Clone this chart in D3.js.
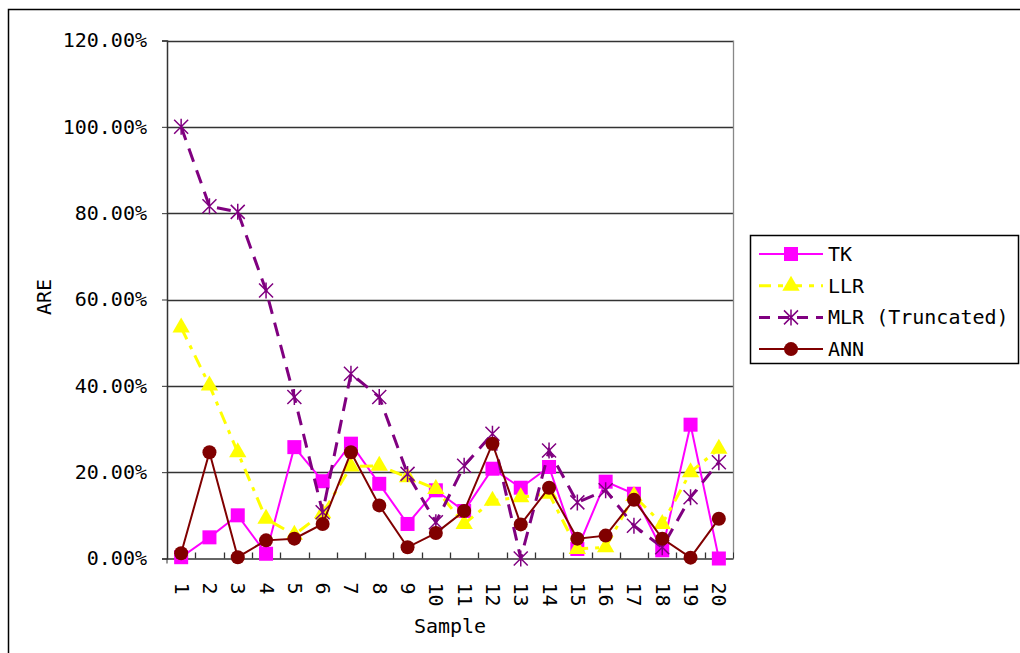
<!DOCTYPE html>
<html><head><meta charset="utf-8">
<script src="https://cdn.jsdelivr.net/npm/d3@7"></script>
<style>body{margin:0;background:#fff}svg{display:block}text{font-family:"DejaVu Sans Mono",monospace;font-size:20px;fill:#000}</style>
</head><body><svg id="c" width="1020" height="653"></svg>
<script>
const categories = ["1","2","3","4","5","6","7","8","9","10","11","12","13","14","15","16","17","18","19","20"];
const tk  = [0.3,4.9,10.0,1.1,25.8,17.9,26.6,17.3,8.0,15.8,11.0,20.8,16.4,21.2,2.2,17.8,15.0,1.9,31.0,0.0];
const llr = [53.5,40.1,24.6,9.2,5.5,10.5,21.3,21.5,18.8,16.1,8.0,13.4,14.2,15.0,2.2,2.6,14.5,8.0,20.0,25.4];
const mlr = [100,81.6,80.3,62.1,37.4,10.7,42.8,37.4,19.6,8.4,21.5,28.9,0.0,25.0,13.0,15.8,7.6,2.6,14.2,22.3];
const ann = [1.2,24.6,0.3,4.2,4.6,8.0,24.6,12.3,2.6,5.9,11.0,26.6,7.9,16.4,4.6,5.3,13.6,4.6,0.2,9.2];
const seriesNames = ["TK","LLR","MLR (Truncated)","ANN"];
const yTicks = [0,0.2,0.4,0.6,0.8,1.0,1.2];

const series = [
  {name:seriesNames[0], values:tk,  color:"#ff00ff", dash:null, width:2, marker:"square"},
  {name:seriesNames[1], values:llr, color:"#ffff00", dash:"13,7,4,7", width:3, marker:"triangle"},
  {name:seriesNames[2], values:mlr, color:"#800080", dash:"14,9", width:3, marker:"asterisk"},
  {name:seriesNames[3], values:ann, color:"#800000", dash:null, width:2, marker:"circle"}
];

const svg = d3.select("#c");
const L=167, R=733, T=40.5, B=558.5;
const x = d3.scalePoint().domain(categories).range([L,R]).padding(0.5);
const xb = d3.scaleBand().domain(categories).range([L,R]);
const y = d3.scaleLinear().domain([0,1.2]).range([B,T]);

// outer border
svg.append("rect").attr("x",8.5).attr("y",9.5).attr("width",1030).attr("height",660)
  .attr("fill","none").attr("stroke","#000").attr("stroke-width",1.5);

// gridlines
svg.append("g").selectAll("line").data(yTicks.filter(d=>d>0)).join("line")
  .attr("x1",L).attr("x2",R).attr("y1",d=>Math.round(y(d))+0.5).attr("y2",d=>Math.round(y(d))+0.5)
  .attr("stroke","#333").attr("stroke-width",1.3);
// right border of plot
svg.append("line").attr("x1",R+0.5).attr("x2",R+0.5).attr("y1",T).attr("y2",B).attr("stroke","#888").attr("stroke-width",1.3);

// y axis
const yAxis = svg.append("g").attr("transform",`translate(${L},0)`)
  .call(d3.axisLeft(y).tickValues(yTicks).tickFormat(d3.format(".2%")).tickSize(5).tickPadding(15));
yAxis.select(".domain").attr("stroke","#333").attr("stroke-width",1.5);
yAxis.selectAll(".tick line").attr("stroke","#333");
yAxis.selectAll("text").style("font-family","DejaVu Sans Mono").style("font-size","20px").attr("fill","#000");

// x axis
const xAxis = svg.append("g").attr("transform",`translate(0,${B})`)
  .call(d3.axisBottom(x).tickSize(0).tickPadding(0));
xAxis.select(".domain").attr("stroke","#333").attr("stroke-width",1.5);
xAxis.selectAll(".tick text")
  .style("font-family","DejaVu Sans Mono").style("font-size","20px").attr("fill","#000")
  .attr("transform","translate(0,24) rotate(90)").attr("dy","0.35em").attr("x",0).attr("y",0)
  .attr("text-anchor","start");
// category-boundary tick marks pointing up
svg.append("g").selectAll("line").data(categories.slice(1)).join("line")
  .attr("x1",d=>Math.round(xb(d))+0.5).attr("x2",d=>Math.round(xb(d))+0.5)
  .attr("y1",B).attr("y2",B-6).attr("stroke","#333").attr("stroke-width",1.3);
svg.append("line").attr("x1",L).attr("x2",L).attr("y1",B).attr("y2",B+5).attr("stroke","#333");
svg.append("line").attr("x1",R+0.5).attr("x2",R+0.5).attr("y1",B).attr("y2",B-6).attr("stroke","#333");

// axis titles
svg.append("text").attr("x",450).attr("y",626).attr("dy","0.35em").attr("text-anchor","middle").text("Sample");
svg.append("text").attr("transform","translate(44,297) rotate(-90)").attr("dy","0.35em").attr("text-anchor","middle").text("ARE");

function drawMarker(g, type, color){
  if(type==="square"){
    g.append("rect").attr("x",-7).attr("y",-7).attr("width",14).attr("height",14).attr("fill",color);
  } else if(type==="triangle"){
    g.append("path").attr("d",d3.symbol(d3.symbolTriangle,130)()).attr("fill",color);
  } else if(type==="circle"){
    g.append("circle").attr("r",7).attr("fill",color);
  } else if(type==="asterisk"){
    g.append("path").attr("d","M-7,-7L7,7M-7,7L7,-7M0,-8L0,8").attr("stroke",color).attr("stroke-width",1.5).attr("fill","none");
  }
}

const line = d3.line().x((d,i)=>x(categories[i])).y(d=>y(d/100));
series.forEach(s=>{
  const g = svg.append("g");
  g.append("path").datum(s.values).attr("d",line).attr("fill","none")
    .attr("stroke",s.color).attr("stroke-width",s.width).attr("stroke-dasharray",s.dash);
  s.values.forEach((v,i)=>{
    const m = g.append("g").attr("transform",`translate(${x(categories[i])},${y(v/100)})`);
    drawMarker(m, s.marker, s.color);
  });
});

// legend
const lg = svg.append("g");
lg.append("rect").attr("x",750.5).attr("y",235.5).attr("width",268).attr("height",128)
  .attr("fill","#fff").attr("stroke","#000").attr("stroke-width",1.5);
series.forEach((s,i)=>{
  const yy = 254 + i*31.7;
  lg.append("line").attr("x1",759).attr("x2",823).attr("y1",yy).attr("y2",yy)
    .attr("stroke",s.color).attr("stroke-width",s.width).attr("stroke-dasharray",s.dash ? (i===1?"12,7,5,7":"11,8") : null);
  const m = lg.append("g").attr("transform",`translate(791,${yy})`);
  drawMarker(m, s.marker, s.color);
  lg.append("text").attr("x",828).attr("y",yy).attr("dy","0.35em").text(s.name);
});
</script></body></html>
